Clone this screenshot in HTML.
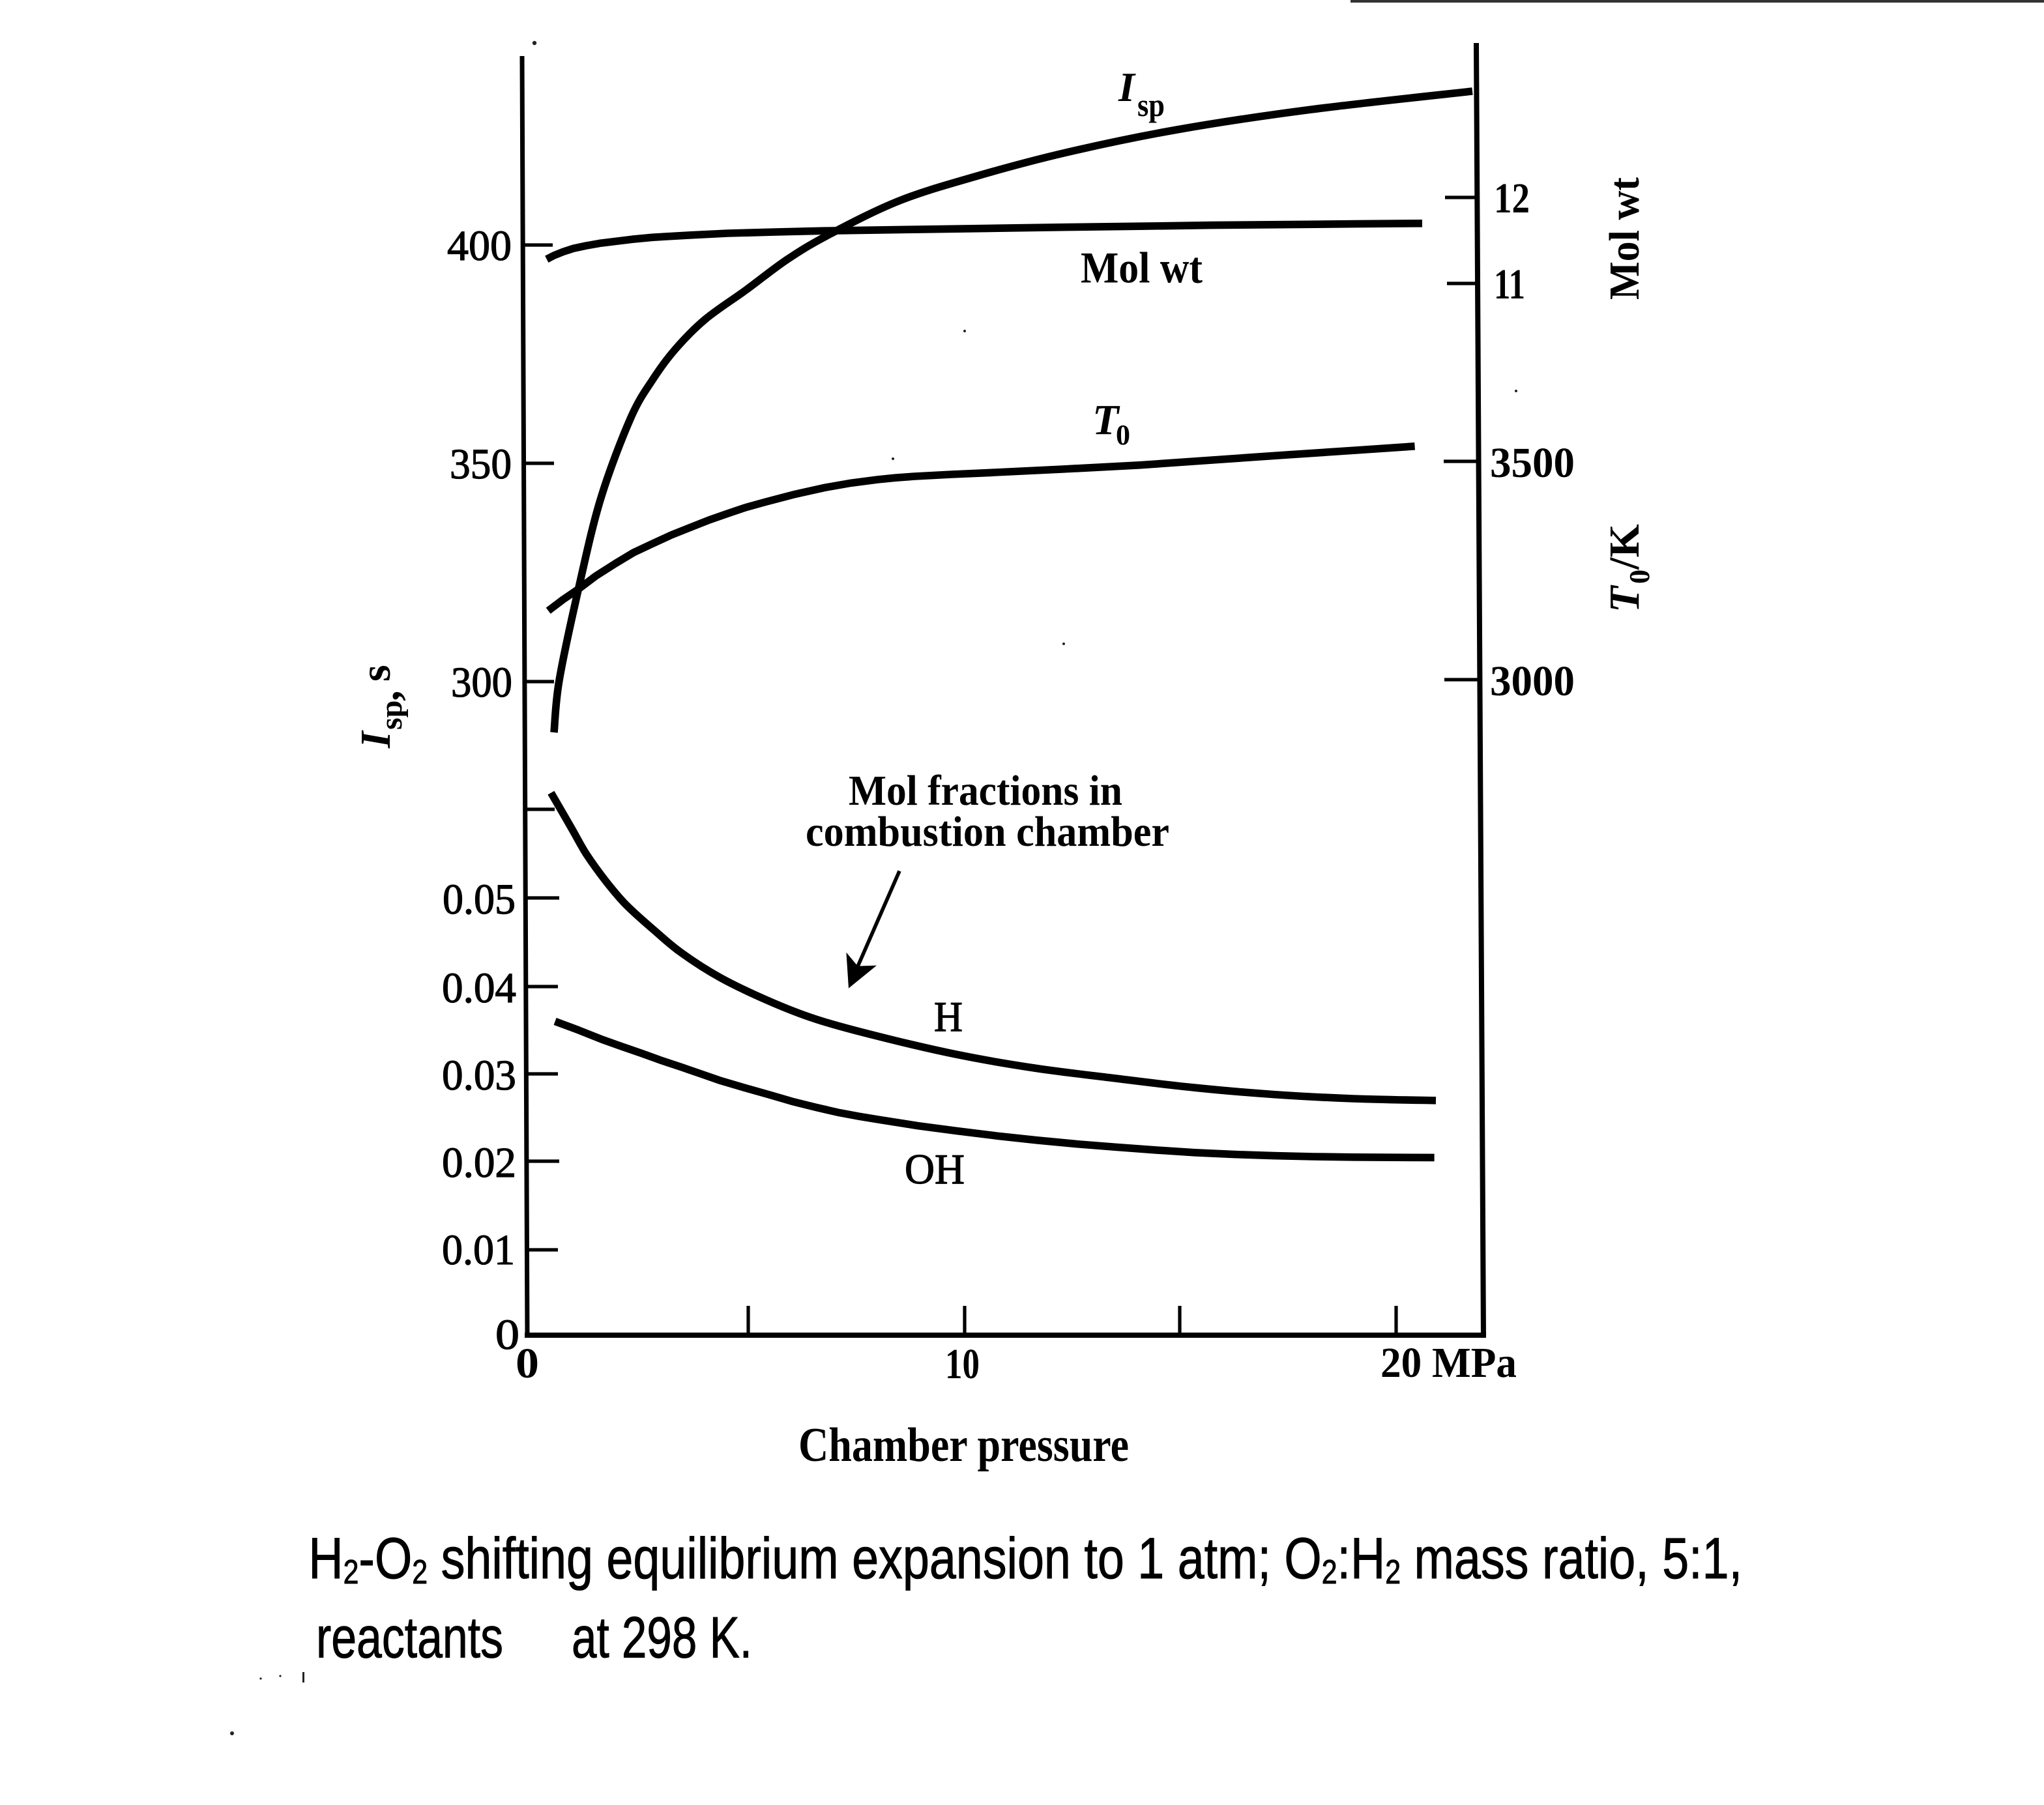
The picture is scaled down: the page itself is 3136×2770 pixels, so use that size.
<!DOCTYPE html>
<html>
<head>
<meta charset="utf-8">
<style>
html,body{margin:0;padding:0;background:#fff;}
svg{display:block;}
.s{font-family:"Liberation Serif",serif;font-weight:bold;fill:#000;}
.n{font-family:"Liberation Serif",serif;font-weight:normal;fill:#000;stroke:#000;stroke-width:0.6;}
.c{font-family:"Liberation Sans",sans-serif;fill:#000;stroke:#000;stroke-width:0.5;}
</style>
</head>
<body>
<svg xmlns="http://www.w3.org/2000/svg" width="3136" height="2770" viewBox="0 0 1568 1385">
<rect x="0" y="0" width="1568" height="1385" fill="#fff"/>
<!-- top-right scan line -->
<rect x="1036" y="0" width="532" height="2" fill="#333"/>

<!-- axes -->
<g stroke="#000" fill="none" stroke-linecap="butt">
  <line x1="400.5" y1="43" x2="404.5" y2="1026.5" stroke-width="3.5"/>
  <line x1="1132.5" y1="33" x2="1138" y2="1026.5" stroke-width="4"/>
  <line x1="402.5" y1="1024.5" x2="1140" y2="1024.5" stroke-width="4"/>
  <!-- left ticks -->
  <g stroke-width="2.6">
    <line x1="401" y1="188" x2="424" y2="188"/>
    <line x1="401.5" y1="355.5" x2="425" y2="355.5"/>
    <line x1="402" y1="523" x2="425" y2="523"/>
    <line x1="402.5" y1="621" x2="425.5" y2="621"/>
    <line x1="403" y1="689" x2="429" y2="689"/>
    <line x1="403" y1="757" x2="428" y2="757"/>
    <line x1="403.5" y1="824" x2="428" y2="824"/>
    <line x1="403.5" y1="891" x2="429" y2="891"/>
    <line x1="404" y1="959" x2="428" y2="959"/>
  </g>
  <!-- right ticks -->
  <g stroke-width="2.6">
    <line x1="1108.5" y1="151.5" x2="1133" y2="151.5"/>
    <line x1="1110" y1="217.5" x2="1133.5" y2="217.5"/>
    <line x1="1107.5" y1="354" x2="1134.5" y2="354"/>
    <line x1="1108" y1="521.5" x2="1135.5" y2="521.5"/>
  </g>
  <!-- bottom ticks -->
  <g stroke-width="2.6">
    <line x1="574" y1="1002" x2="574" y2="1025"/>
    <line x1="740" y1="1002" x2="740" y2="1025"/>
    <line x1="905" y1="1002" x2="905" y2="1025"/>
    <line x1="1071" y1="1002" x2="1071" y2="1025"/>
  </g>
</g>

<!-- curves -->
<g stroke="#000" fill="none" stroke-width="5.8" stroke-linejoin="round" stroke-linecap="butt">
  <!-- Isp -->
  <path d="M425,562 C425.7,555.3 425.9,540.2 429,522 C432.1,503.8 438.2,476.2 443.5,453 C448.8,429.8 454,405 460.7,383 C467.4,361 477,336.3 483.7,321 C490.4,305.7 495.2,299.8 500.9,291 C506.6,282.2 511.3,275.7 518,268 C524.7,260.3 531.8,252.7 541,245 C550.2,237.3 562.5,229.7 573,222 C583.5,214.3 593.5,206 604,199 C614.5,192 621.7,187.5 636,180 C650.3,172.5 671.3,161.4 690,154 C708.7,146.6 726.7,141.7 748,135.5 C769.3,129.3 792.2,123 818,117 C843.8,111 871.7,105 903,99.5 C934.3,94 968.3,88.9 1006,84 C1043.8,79.1 1108.9,72.3 1129.5,70"/>
  <!-- Mol wt -->
  <polyline points="419.4,198.9 425,196 432,193.2 440,190.6 449.3,188.6 460,186.7 472.2,185.2 485,183.6 500.9,182.1 530,180.4 558.3,179 595,178 633,177.1 700,176.1 759.2,175.2 820,174.3 874,173.6 930,172.8 988.9,172.3 1040,171.8 1091,171.4"/>
  <!-- T0 -->
  <polyline points="420.6,468.6 432,460 443.5,452.2 457,442 472.2,432.3 486,424 500.9,417 515,410.5 529.6,404.7 544,399 558.3,394 572,389.4 587,385.2 610,379.2 633,374.1 653,370.6 673.1,368 687,366.6 701.8,365.5 730,364 759.2,362.7 815,360 874,356.9 930,353 988.9,348.9 1040,345.5 1085.3,342.4"/>
  <!-- H -->
  <path d="M422.7,608.3 C425.2,612.7 433.4,626.7 437.9,634.6 C442.5,642.5 445.5,648.7 450,655.7 C454.6,662.7 460.2,670.3 465.2,676.7 C470.3,683.1 474.3,688.2 480.3,694.3 C486.4,700.4 494.4,707.4 501.5,713.5 C508.6,719.6 514.1,725 522.7,731.1 C531.3,737.3 541.9,744.3 553,750.4 C564.1,756.5 577.3,762.6 589.4,767.9 C601.5,773.2 611.7,777.4 625.8,782 C639.9,786.6 656,790.8 674.2,795.3 C692.4,799.9 714.6,805.2 734.8,809.3 C755,813.4 775.3,816.8 795.5,819.8 C815.7,822.8 835.9,825 856.1,827.5 C876.3,830 896.5,832.6 916.7,834.6 C936.9,836.7 957.1,838.4 977.3,839.8 C997.5,841.2 1017.2,842.2 1037.9,843 C1058.6,843.8 1090.9,844.2 1101.5,844.4"/>
  <!-- OH -->
  <polyline points="425.8,783.7 444,790.5 462.1,797.7 477,803 492.4,808.3 507,813.6 522.7,818.8 538,824.1 553,829.3 571,834.6 589.4,839.8 607.6,845.1 626,849.7 643.9,853.8 659,856.6 674.2,859.1 704,863.8 734.8,867.9 765,871.6 795.5,874.9 826,877.8 856.1,880.2 886,882.4 916.7,884.4 947,885.8 977.3,886.8 1008,887.5 1037.9,887.9 1070,888.1 1100.3,888.2"/>
</g>

<!-- arrow -->
<line x1="690" y1="668.3" x2="658" y2="741.5" stroke="#000" stroke-width="2.8"/>
<polygon points="651,758.3 649.2,730.8 658,741.3 672.5,740.8" fill="#000"/>

<!-- left axis labels -->
<g class="n" font-size="33">
  <text x="343" y="199.5" textLength="49.5" lengthAdjust="spacingAndGlyphs">400</text>
  <text x="345" y="367" textLength="47.5" lengthAdjust="spacingAndGlyphs">350</text>
  <text x="346" y="534.5" textLength="47" lengthAdjust="spacingAndGlyphs">300</text>
  <text x="339.5" y="701" textLength="56" lengthAdjust="spacingAndGlyphs">0.05</text>
  <text x="339" y="769" textLength="57" lengthAdjust="spacingAndGlyphs">0.04</text>
  <text x="339" y="836" textLength="57" lengthAdjust="spacingAndGlyphs">0.03</text>
  <text x="339" y="903" textLength="57" lengthAdjust="spacingAndGlyphs">0.02</text>
  <text x="339" y="970" textLength="56" lengthAdjust="spacingAndGlyphs">0.01</text>
  <text x="380" y="1035" textLength="18.5" lengthAdjust="spacingAndGlyphs">0</text>
  <text x="716.5" y="791" textLength="22" lengthAdjust="spacingAndGlyphs">H</text>
  <text x="694" y="908" textLength="46" lengthAdjust="spacingAndGlyphs">OH</text>
</g>
<g class="s" font-size="33">
  <!-- bottom labels -->
  <text x="395.5" y="1057" textLength="18" lengthAdjust="spacingAndGlyphs">0</text>
  <text x="725" y="1057.5" textLength="26.5" lengthAdjust="spacingAndGlyphs">10</text>
  <text x="1059" y="1056.5" textLength="104.5" lengthAdjust="spacingAndGlyphs">20 MPa</text>
  <!-- right labels -->
  <text x="1146" y="163" textLength="27.5" lengthAdjust="spacingAndGlyphs">12</text>
  <text x="1146" y="229" textLength="24" lengthAdjust="spacingAndGlyphs">11</text>
  <text x="1143" y="366" textLength="65" lengthAdjust="spacingAndGlyphs">3500</text>
  <text x="1143" y="533.5" textLength="65" lengthAdjust="spacingAndGlyphs">3000</text>
  <!-- curve labels -->
  <text x="829" y="216.7" font-size="34" textLength="93.5" lengthAdjust="spacingAndGlyphs">Mol wt</text>
  <text x="651" y="617.5" textLength="210" lengthAdjust="spacingAndGlyphs">Mol fractions in</text>
  <text x="618" y="649" textLength="279" lengthAdjust="spacingAndGlyphs">combustion chamber</text>
  <text x="612.5" y="1121" font-size="37" textLength="253.5" lengthAdjust="spacingAndGlyphs">Chamber pressure</text>
</g>

<!-- Isp label top -->
<text class="s" x="858" y="77.5" font-size="32" font-style="italic">I</text>
<text class="s" x="872.5" y="89" font-size="25" textLength="21" lengthAdjust="spacingAndGlyphs">sp</text>
<!-- T0 label -->
<text class="s" x="838" y="333" font-size="33" font-style="italic">T</text>
<text class="s" x="856" y="341" font-size="22" font-weight="normal">0</text>

<!-- rotated right titles -->
<text class="s" transform="translate(1257,230) rotate(-90)" font-size="33" textLength="94" lengthAdjust="spacingAndGlyphs">Mol wt</text>
<text class="s" transform="translate(1257,470) rotate(-90)" font-size="33"><tspan x="0" y="0" font-style="italic">T</tspan><tspan x="22" y="8" font-size="22">0</tspan><tspan x="33" y="0">/K</tspan></text>

<!-- rotated left title -->
<text class="s" transform="translate(299,573) rotate(-90)" font-size="33"><tspan x="-1" y="0" font-style="italic">I</tspan><tspan x="13" y="9" font-size="24">sp</tspan><tspan x="35" y="7">,</tspan><tspan x="50" y="0">s</tspan></text>

<!-- caption -->
<g transform="translate(236.7,1211) scale(0.824,1)">
  <text class="c" x="0" y="0" font-size="44.7">H<tspan dy="4" font-size="26">2</tspan><tspan dy="-4">-O</tspan><tspan dy="4" font-size="26">2</tspan><tspan dy="-4"> shifting equilibrium expansion to 1 atm; O</tspan><tspan dy="4" font-size="26">2</tspan><tspan dy="-4">:H</tspan><tspan dy="4" font-size="26">2</tspan><tspan dy="-4"> mass ratio, 5:1,</tspan></text>
</g>
<text class="c" x="242.5" y="1271.7" font-size="44.7" textLength="143.5" lengthAdjust="spacingAndGlyphs">reactants</text>
<text class="c" x="438.5" y="1271.7" font-size="44.7" textLength="138.5" lengthAdjust="spacingAndGlyphs">at 298 K.</text>

<!-- scan specks -->
<g fill="#222">
  <circle cx="410" cy="33" r="1.6"/>
  <circle cx="685" cy="352" r="1"/>
  <circle cx="1163" cy="300" r="1"/>
  <circle cx="816" cy="494" r="1"/>
  <circle cx="740" cy="254" r="1"/>
  <circle cx="178" cy="1330" r="1.5"/>
  <rect x="232" y="1283" width="1.5" height="8"/>
  <circle cx="200" cy="1288" r="0.8"/>
  <circle cx="215" cy="1286" r="0.8"/>
</g>
</svg>
</body>
</html>
